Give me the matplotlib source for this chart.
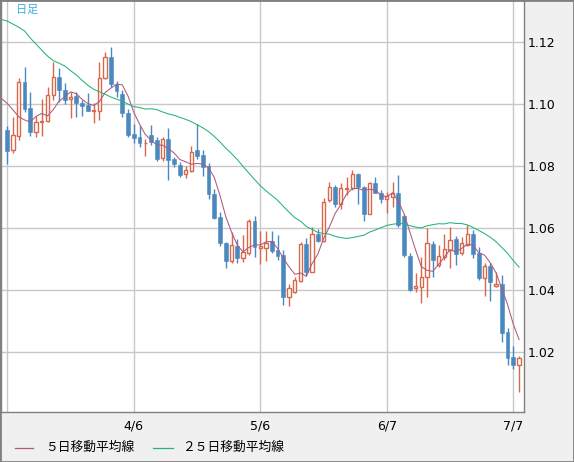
import numpy as np
import pandas as pd
import matplotlib
matplotlib.use('Agg')
import matplotlib.pyplot as plt
from matplotlib.lines import Line2D
from matplotlib.patches import Rectangle

plt.rcParams['font.family'] = ['DejaVu Sans', 'Noto Sans CJK JP']

# ---- data (EUR/USD style daily candles) ----
dates = pd.bdate_range('2022-03-07', periods=90)

opens = [1.0917, 1.0852, 1.0899, 1.1071, 1.0987, 1.0910, 1.0942, 1.0947, 1.1030, 1.1087,
         1.1046, 1.1016, 1.1027, 1.1004, 1.0998, 1.0979, 1.0980, 1.1084, 1.1152, 1.1065,
         1.1033, 1.0971, 1.0904, 1.0894, 1.0874, 1.0901, 1.0885, 1.0826, 1.0890, 1.0824,
         1.0804, 1.0774, 1.0785, 1.0853, 1.0837, 1.0801, 1.0711, 1.0636, 1.0552, 1.0496,
         1.0543, 1.0503, 1.0519, 1.0624, 1.0536, 1.0536, 1.0559, 1.0530, 1.0514, 1.0379,
         1.0396, 1.0431, 1.0549, 1.0460, 1.0582, 1.0560, 1.0691, 1.0732, 1.0678, 1.0726,
         1.0729, 1.0775, 1.0732, 1.0648, 1.0747, 1.0715, 1.0694, 1.0702, 1.0715, 1.0640,
         1.0511, 1.0407, 1.0412, 1.0442, 1.0549, 1.0482, 1.0508, 1.0530, 1.0566, 1.0519,
         1.0546, 1.0582, 1.0521, 1.0439, 1.0478, 1.0414, 1.0420, 1.0267, 1.0184, 1.0159]

highs = [1.0930, 1.0958, 1.1086, 1.1121, 1.1039, 1.0962, 1.1017, 1.1057, 1.1137, 1.1118,
         1.1070, 1.1039, 1.1039, 1.1014, 1.1037, 1.1003, 1.1137, 1.1169, 1.1186, 1.1075,
         1.1046, 1.0985, 1.0937, 1.0930, 1.0890, 1.0933, 1.0894, 1.0894, 1.0925, 1.0831,
         1.0815, 1.0801, 1.0866, 1.0937, 1.0853, 1.0810, 1.0726, 1.0654, 1.0557, 1.0589,
         1.0565, 1.0578, 1.0630, 1.0640, 1.0592, 1.0592, 1.0592, 1.0578, 1.0530, 1.0420,
         1.0444, 1.0557, 1.0568, 1.0605, 1.0597, 1.0697, 1.0750, 1.0740, 1.0745, 1.0765,
         1.0788, 1.0779, 1.0737, 1.0750, 1.0767, 1.0724, 1.0718, 1.0750, 1.0772, 1.0648,
         1.0519, 1.0455, 1.0508, 1.0600, 1.0560, 1.0546, 1.0582, 1.0603, 1.0575, 1.0573,
         1.0611, 1.0595, 1.0539, 1.0489, 1.0487, 1.0460, 1.0449, 1.0277, 1.0220, 1.0189]

lows = [1.0807, 1.0844, 1.0885, 1.0976, 1.0899, 1.0896, 1.0899, 1.0943, 1.1014, 1.1007,
        1.1001, 1.0957, 1.0960, 1.0962, 1.0979, 1.0941, 1.0949, 1.1082, 1.1057, 1.1025,
        1.0958, 1.0894, 1.0874, 1.0863, 1.0834, 1.0869, 1.0818, 1.0818, 1.0756, 1.0799,
        1.0766, 1.0761, 1.0783, 1.0823, 1.0770, 1.0694, 1.0630, 1.0543, 1.0471, 1.0489,
        1.0489, 1.0492, 1.0514, 1.0508, 1.0484, 1.0496, 1.0521, 1.0498, 1.0353, 1.0350,
        1.0390, 1.0428, 1.0446, 1.0460, 1.0557, 1.0557, 1.0686, 1.0670, 1.0661, 1.0707,
        1.0724, 1.0678, 1.0625, 1.0646, 1.0713, 1.0683, 1.0650, 1.0670, 1.0605, 1.0508,
        1.0399, 1.0396, 1.0360, 1.0379, 1.0444, 1.0474, 1.0498, 1.0471, 1.0482, 1.0514,
        1.0543, 1.0503, 1.0433, 1.0383, 1.0367, 1.0412, 1.0234, 1.0159, 1.0145, 1.0073]

closes = [1.0850, 1.0900, 1.1071, 1.0985, 1.0910, 1.0942, 1.0947, 1.1030, 1.1087, 1.1046,
          1.1014, 1.1025, 1.1003, 1.0994, 1.0979, 1.0982, 1.1084, 1.1152, 1.1065, 1.1044,
          1.0971, 1.0901, 1.0892, 1.0874, 1.0877, 1.0879, 1.0824, 1.0888, 1.0820, 1.0807,
          1.0772, 1.0788, 1.0847, 1.0834, 1.0797, 1.0710, 1.0634, 1.0552, 1.0496, 1.0546,
          1.0503, 1.0523, 1.0624, 1.0539, 1.0544, 1.0554, 1.0528, 1.0512, 1.0379, 1.0407,
          1.0433, 1.0549, 1.0460, 1.0582, 1.0560, 1.0686, 1.0732, 1.0678, 1.0729, 1.0729,
          1.0775, 1.0732, 1.0648, 1.0747, 1.0715, 1.0694, 1.0705, 1.0713, 1.0611, 1.0514,
          1.0401, 1.0414, 1.0442, 1.0552, 1.0498, 1.0511, 1.0533, 1.0562, 1.0517, 1.0552,
          1.0582, 1.0517, 1.0439, 1.0478, 1.0428, 1.0420, 1.0263, 1.0183, 1.0159, 1.0181]

# moving average values before enough bars are on screen (read from the chart,
# starting two bars left of the first candle)
ma5_head = [1.1027, 1.1019, 1.1003, 1.0982, 1.0960, 1.0950]
ma25_head = [1.1278, 1.1274, 1.1269, 1.1259, 1.1249, 1.1237, 1.1214, 1.1195, 1.1175,
             1.1156, 1.1141, 1.1133, 1.1124, 1.1109, 1.1095, 1.1078, 1.1062, 1.1049,
             1.1041, 1.1033, 1.1024, 1.1017, 1.1011, 1.1001, 1.0993, 1.0990]

price_ticks = [1.02, 1.04, 1.06, 1.08, 1.10, 1.12]
date_step = 22

BLUE = '#4a88c0'
RED = '#d9674b'
MA5_C = '#b0587f'
MA25_C = '#25b475'
GRID = '#c8c8c8'
FRAME = '#808080'

W, H = 574, 462
fig = plt.figure(figsize=(W / 100, H / 100), dpi=100, facecolor='#f0f0f0')
ax = fig.add_axes([0.5 / W, 1 - 412.3 / H, 523 / W, 412 / H])
ax.set_facecolor('white')

o = np.array(opens)
h = np.array(highs)
l = np.array(lows)
c = np.array(closes)
x = np.arange(len(c))
up = c >= o
dn = ~up

# wicks
ax.vlines(x[dn], l[dn], h[dn], colors=BLUE, lw=1, zorder=2)
ax.vlines(x[up], l[up], h[up], colors=RED, lw=1, zorder=2)
# bodies
ax.bar(x[dn], np.maximum(o[dn] - c[dn], 0.0002), bottom=c[dn], width=0.66,
       color=BLUE, edgecolor=BLUE, lw=0.4, zorder=3)
ax.bar(x[up], np.maximum(c[up] - o[up], 0.0001), bottom=o[up], width=0.58,
       facecolor='white', edgecolor=RED, lw=1, zorder=3)

# moving averages
s = pd.Series(closes)
ma5 = np.concatenate([ma5_head, s.rolling(5).mean().to_numpy()[4:]])
ma25 = np.concatenate([ma25_head, s.rolling(25).mean().to_numpy()[24:]])
ax.plot(np.arange(-2, len(c)), ma5, color=MA5_C, lw=0.75, zorder=4)
ax.plot(np.arange(-2, len(c)), ma25, color=MA25_C, lw=0.75, zorder=4)

ax.set_xlim(-1.18, 89.77)
ax.set_ylim(1.00065, 1.1336)

xt = list(range(0, len(c), date_step))
ax.set_xticks(xt)
ax.set_xticklabels(['' if i == 0 else f'{dates[i].month}/{dates[i].day}' for i in xt])
ax.yaxis.tick_right()
ax.set_yticks(price_ticks)
ax.set_yticklabels([f'{v:.2f}' for v in price_ticks])
ax.tick_params(axis='both', length=0, labelsize=9, colors='black')
ax.tick_params(axis='y', pad=3)
ax.tick_params(axis='x', pad=5.5)
ax.grid(True, color=GRID, lw=1, zorder=0)
ax.set_axisbelow(True)
for sp in ax.spines.values():
    sp.set_color(FRAME)
    sp.set_linewidth(1)

fig.text(16.5 / W, 1 - 10 / H, '日足', fontsize=8, color='#3ab0e0',
         va='center', ha='left', family=['Noto Sans CJK JP'])

# legend row
ly = 1 - 447.5 / H
fig.add_artist(Line2D([15 / W, 33 / W], [ly, ly], transform=fig.transFigure,
                      color=MA5_C, lw=0.9))
fig.text(45 / W, ly, '５日移動平均線', fontsize=9.2, va='center', ha='left',
         family=['Noto Sans CJK JP'])
fig.add_artist(Line2D([153 / W, 173 / W], [ly, ly], transform=fig.transFigure,
                      color=MA25_C, lw=0.9))
fig.text(182.5 / W, ly, '２５日移動平均線', fontsize=9.2, va='center', ha='left',
         family=['Noto Sans CJK JP'])

fig.add_artist(Rectangle((0, 0), 1, 1, transform=fig.transFigure, fill=False,
                         edgecolor=FRAME, lw=2))

fig.savefig('out.png', dpi=100, facecolor=fig.get_facecolor())
